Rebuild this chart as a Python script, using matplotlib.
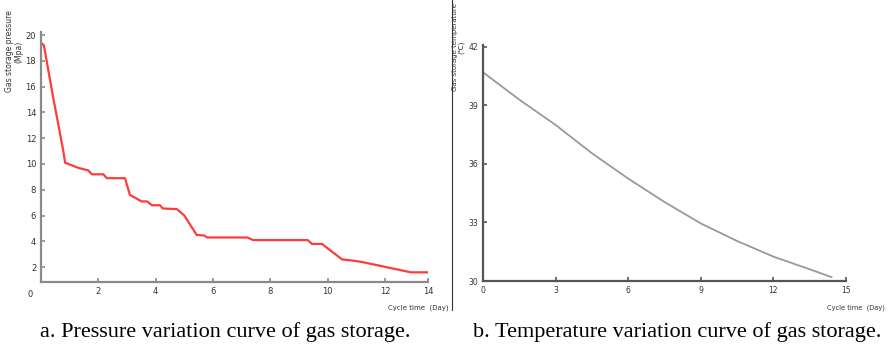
import matplotlib.pyplot as plt

plt.rcParams['font.family'] = ['DejaVu Sans']

# 压力曲线 (a)
press_day = [0.05, 0.1, 0.42, 0.77, 0.84, 1.07, 1.3, 1.65, 1.77, 2.17, 2.3, 2.93, 3.1, 3.27,
             3.5, 3.7, 3.87, 4.15, 4.25, 4.74, 5.0, 5.2, 5.43, 5.7, 5.8, 7.2, 7.4, 9.3,
             9.45, 9.8, 10.3, 10.5, 10.9, 11.2, 12.05, 12.9, 13.5]
press_mpa = [19.3, 19.2, 15.2, 11.1, 10.1, 9.9, 9.7, 9.5, 9.2, 9.2, 8.9, 8.9, 7.6, 7.4,
             7.1, 7.1, 6.8, 6.8, 6.55, 6.5, 6.0, 5.3, 4.5, 4.45, 4.3, 4.3, 4.1, 4.1,
             3.8, 3.8, 2.95, 2.6, 2.5, 2.4, 2.0, 1.6, 1.6]
press_yticks = [2, 4, 6, 8, 10, 12, 14, 16, 18, 20]
press_xticks = [2, 4, 6, 8, 10, 12, 13.5]
press_xlabels = ['2', '4', '6', '8', '10', '12', '14']

# 温度曲线 (b)
temp_day = [0, 1.5, 3, 4.5, 6, 7.5, 9, 10.5, 12, 13.5, 14.4]
temp_c = [40.7, 39.3, 38.0, 36.55, 35.25, 34.05, 32.95, 32.05, 31.25, 30.6, 30.2]
temp_yticks = [30, 33, 36, 39, 42]
temp_xticks = [0, 3, 6, 9, 12, 15]

fig = plt.figure(figsize=(8.9, 3.48), dpi=100)

tick_kw = dict(direction='in', labelsize=6, colors='#333333', length=3, width=1.2)

# ---- 左图 ----
ax1 = fig.add_axes([0.0461, 0.1897, 0.4348, 0.717])
ax1.plot(press_day, press_mpa, color='#ff3b3b', linewidth=1.6)
ax1.set_xlim(0, 13.5)
ax1.set_ylim(0.85, 20.2)
ax1.set_yticks(press_yticks)
ax1.set_xticks(press_xticks)
ax1.set_xticklabels(press_xlabels)
for s in ['top', 'right']:
    ax1.spines[s].set_visible(False)
for s in ['left', 'bottom']:
    ax1.spines[s].set_color('#8a8a8a')
    ax1.spines[s].set_linewidth(1.6)
ax1.tick_params(axis='both', **tick_kw)
ax1.tick_params(axis='both', color='#8a8a8a')
ax1.annotate('0', xy=(0, 0.85), xytext=(-8, -9), textcoords='offset points',
             fontsize=6, color='#333333', ha='center', va='center')
fig.text(0.016, 0.97, 'Gas storage pressure\n(Mpa)', rotation=90, fontsize=5.5,
         ha='center', va='top', color='#333333', linespacing=1.0)
fig.text(0.47, 0.115, 'Cycle time  (Day)', fontsize=5, ha='center', va='center',
         color='#333333')

# ---- 右图 ----
ax2 = fig.add_axes([0.5427, 0.1925, 0.4079, 0.6782])
ax2.plot(temp_day, temp_c, color='#999999', linewidth=1.3)
ax2.set_xlim(0, 15)
ax2.set_ylim(30, 42.1)
ax2.set_yticks(temp_yticks)
ax2.set_xticks(temp_xticks)
for s in ['top', 'right']:
    ax2.spines[s].set_visible(False)
for s in ['left', 'bottom']:
    ax2.spines[s].set_color('#555555')
    ax2.spines[s].set_linewidth(1.6)
ax2.tick_params(axis='both', **tick_kw)
ax2.tick_params(axis='both', color='#555555', labelsize=5.5)
fig.text(0.515, 0.99, 'Gas storage temperature\n(℃)', rotation=90, fontsize=5,
         ha='center', va='top', color='#333333', linespacing=1.0)
fig.text(0.962, 0.115, 'Cycle time  (Day)', fontsize=4.8, ha='center', va='center',
         color='#333333')

# 中间分隔线
fig.add_artist(plt.Line2D([0.508, 0.508], [0.11, 1.0], color='#333333', linewidth=0.8))

# 图注
fig.text(0.253, 0.046, 'a. Pressure variation curve of gas storage.', fontsize=16,
         family='Liberation Serif', ha='center', va='center')
fig.text(0.761, 0.046, 'b. Temperature variation curve of gas storage.', fontsize=16,
         family='Liberation Serif', ha='center', va='center')

fig.savefig('out.png', dpi=100, facecolor='white')
